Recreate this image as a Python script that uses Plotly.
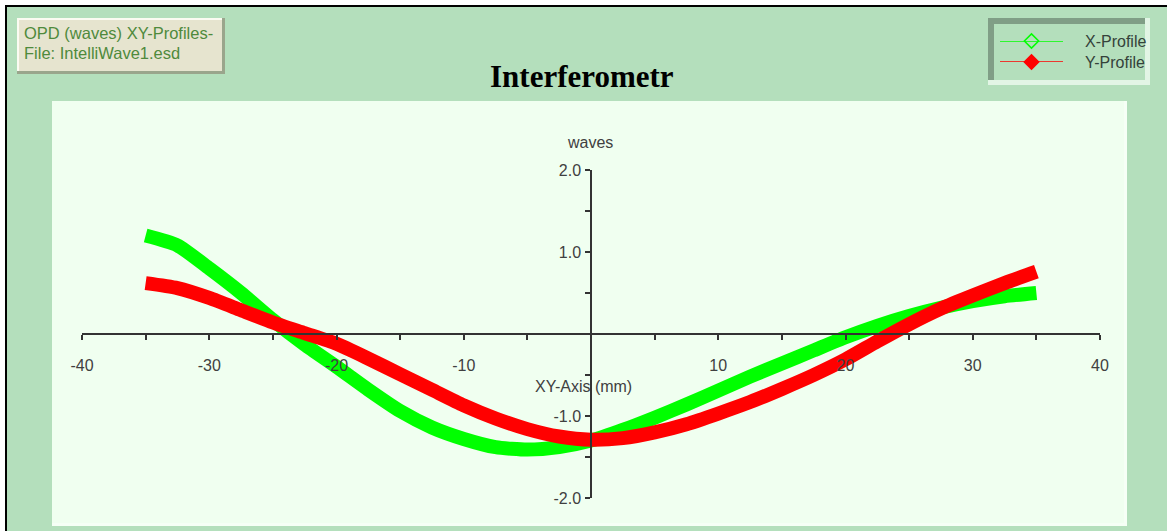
import plotly.graph_objects as go

# ---- data -------------------------------------------------------------
SERIES_NAMES = ["X-Profile", "Y-Profile"]
POSITION_MM = [-35, -32.5, -30, -27.5, -25, -22.5, -20, -17.5, -15, -12.5,
               -10, -7.5, -5, -2.5, 0, 2.5, 5, 7.5, 10, 12.5,
               15, 17.5, 20, 22.5, 25, 27.5, 30, 32.5, 35]
X_PROFILE = [1.20, 1.08, 0.80, 0.50, 0.17, -0.13, -0.40, -0.68, -0.94, -1.14,
             -1.28, -1.38, -1.41, -1.38, -1.30, -1.17, -1.02, -0.86, -0.69, -0.52,
             -0.36, -0.20, -0.04, 0.10, 0.22, 0.32, 0.40, 0.46, 0.50]
Y_PROFILE = [0.62, 0.56, 0.44, 0.29, 0.14, 0.01, -0.12, -0.30, -0.49, -0.68,
             -0.87, -1.03, -1.16, -1.25, -1.29, -1.27, -1.20, -1.10, -0.97, -0.83,
             -0.67, -0.50, -0.31, -0.09, 0.12, 0.31, 0.47, 0.62, 0.76]
X_TICKS = list(range(-40, 41, 5))
X_TICK_TEXT = [str(v) if (v % 10 == 0 and v != 0) else "" for v in X_TICKS]
Y_TICKS = [2.0, 1.5, 1.0, 0.5, 0.0, -0.5, -1.0, -1.5, -2.0]
Y_TICK_TEXT = ["2.0", "", "1.0", "", "", "", "-1.0", "", "-2.0"]

W, H = 1167, 531
SANS = "Liberation Sans, Arial, sans-serif"
GREEN, RED = "#00ff00", "#ff0000"
AXIS = "#333333"


def fx(p):
    return p / W


def fy(p):
    return 1 - p / H


fig = go.Figure()

# profile curves (red drawn on top of green)
fig.add_trace(go.Scatter(x=POSITION_MM, y=X_PROFILE, mode="lines", name=SERIES_NAMES[0],
                         line=dict(color=GREEN, width=14, shape="spline", smoothing=0.6),
                         showlegend=False, xaxis="x", yaxis="y"))
fig.add_trace(go.Scatter(x=POSITION_MM, y=Y_PROFILE, mode="lines", name=SERIES_NAMES[1],
                         line=dict(color=RED, width=14, shape="spline", smoothing=0.6),
                         showlegend=False, xaxis="x", yaxis="y"))

# legend samples in a small inset
legend_rows = [1, 0]
symbols = ["diamond-open", "diamond"]
for name, color, sym, row in zip(SERIES_NAMES, [GREEN, RED], symbols, legend_rows):
    fig.add_trace(go.Scatter(x=[0, 1], y=[row, row], mode="lines",
                             line=dict(color=color, width=1.5), showlegend=False,
                             xaxis="x2", yaxis="y2", hoverinfo="skip", cliponaxis=False))
    fig.add_trace(go.Scatter(x=[0.5], y=[row], mode="markers",
                             marker=dict(symbol=sym, size=11, color=color,
                                         line=dict(color=color, width=1.5)),
                             showlegend=False, xaxis="x2", yaxis="y2",
                             hoverinfo="skip", cliponaxis=False))

shapes = [
    # window background and frame
    dict(type="rect", x0=fx(7), x1=1, y0=0, y1=fy(7), fillcolor="#b4dfbc", line_width=0),
    dict(type="line", x0=fx(5), x1=1, y0=fy(6), y1=fy(6), line=dict(color="black", width=2)),
    dict(type="line", x0=fx(6), x1=fx(6), y0=0, y1=fy(6), line=dict(color="black", width=2)),
    # plotting panel
    dict(type="rect", x0=fx(52), x1=fx(1127), y0=fy(526), y1=fy(101), fillcolor="#f6fff6", line_width=0),
    dict(type="rect", x0=fx(52), x1=fx(1124), y0=fy(523), y1=fy(101), fillcolor="#f0fff0", line_width=0),
    # info box (raised)
    dict(type="rect", x0=fx(17), x1=fx(225), y0=fy(74), y1=fy(18), fillcolor="#9aa58c", line_width=0),
    dict(type="rect", x0=fx(17), x1=fx(222), y0=fy(71), y1=fy(18), fillcolor="#fbfbf2", line_width=0),
    dict(type="rect", x0=fx(19), x1=fx(222), y0=fy(71), y1=fy(20), fillcolor="#e6e4cf", line_width=0),
    # legend box (sunken)
    dict(type="rect", x0=fx(988), x1=fx(1150), y0=fy(85), y1=fy(18), fillcolor="#e2f5e5", line_width=0),
    dict(type="rect", x0=fx(988), x1=fx(1145), y0=fy(80), y1=fy(18), fillcolor="#809e86", line_width=0),
    dict(type="rect", x0=fx(994), x1=fx(1145), y0=fy(80), y1=fy(24), fillcolor="#b4dfbc", line_width=0),
]
for s in shapes:
    s.update(xref="paper", yref="paper", layer="below")

annotations = [
    dict(x=fx(582), y=fy(77), text="<b>Interferometr</b>",
         font=dict(family="Liberation Serif, Times New Roman, serif", size=31, color="black")),
    dict(x=fx(590), y=fy(142), text="waves", font=dict(family=SANS, size=16, color="#404040")),
    dict(x=fx(583), y=fy(387), text="XY-Axis (mm)", font=dict(family=SANS, size=16, color="#404040")),
    dict(x=fx(22), y=fy(33), text="OPD (waves) XY-Profiles-", xanchor="left",
         font=dict(family=SANS, size=16.5, color="#4f8a3c")),
    dict(x=fx(22), y=fy(53), text="File: IntelliWave1.esd", xanchor="left",
         font=dict(family=SANS, size=16.5, color="#4f8a3c")),
]
for name, ypx in zip(SERIES_NAMES, [41, 62]):
    annotations.append(dict(x=fx(1083), y=fy(ypx), text=name, xanchor="left",
                            font=dict(family=SANS, size=16, color="#34423a")))
for a in annotations:
    a.update(xref="paper", yref="paper", showarrow=False, yanchor=a.get("yanchor", "middle"),
             xanchor=a.get("xanchor", "center"))

xdom = [fx(82), fx(1100)]
ydom = [fy(498), fy(170)]
common_x = dict(range=[-40, 40], domain=xdom, anchor="free", position=fy(334),
                tickmode="array", tickvals=X_TICKS, showgrid=False, zeroline=False,
                tickcolor=AXIS, tickwidth=1.5, fixedrange=True, automargin=False)
common_y = dict(range=[-2, 2], domain=ydom, anchor="free", position=fx(591),
                tickmode="array", tickvals=Y_TICKS, showgrid=False, zeroline=False,
                tickcolor=AXIS, tickwidth=1.5, fixedrange=True, automargin=False)

fig.update_layout(
    template="none",
    width=W, height=H, autosize=False,
    margin=dict(l=0, r=0, t=0, b=0, pad=0, autoexpand=False),
    paper_bgcolor="white", plot_bgcolor="rgba(0,0,0,0)",
    showlegend=False,
    xaxis=dict(**common_x, ticks="outside", ticklen=5, ticktext=X_TICK_TEXT,
               showline=True, linecolor=AXIS, linewidth=1.5, ticklabelstandoff=12,
               tickfont=dict(family=SANS, size=16, color="#404040")),
    xaxis3=dict(**common_x, overlaying="x", ticks="inside", ticklen=4,
                showticklabels=False, showline=False),
    yaxis=dict(**common_y, ticks="outside", ticklen=5, ticktext=Y_TICK_TEXT,
               showline=True, linecolor=AXIS, linewidth=1.5, ticklabelstandoff=1,
               tickfont=dict(family=SANS, size=16, color="#404040")),
    yaxis3=dict(**common_y, overlaying="y", ticks="inside", ticklen=4,
                showticklabels=False, showline=False),
    xaxis2=dict(domain=[fx(1000), fx(1063)], range=[0, 1], visible=False, fixedrange=True,
                anchor="y2", automargin=False),
    yaxis2=dict(domain=[fy(62), fy(41)], range=[0, 1], visible=False, fixedrange=True,
                anchor="x2", automargin=False),
    shapes=shapes,
    annotations=annotations,
)

fig.write_html("out.html")
